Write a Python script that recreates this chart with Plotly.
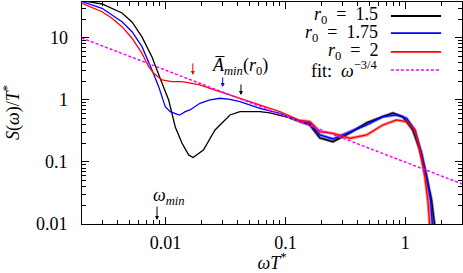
import math
import plotly.graph_objects as go

# ---- data (x = omega T*, y = S(omega)/T*) ----
x_r150 = [0.00202, 0.00296, 0.00434, 0.00526, 0.00637, 0.00772, 0.00935, 0.01063, 0.01207,
          0.01372, 0.0156, 0.0170, 0.0207, 0.0259, 0.0345, 0.0418, 0.0613, 0.0743, 0.109,
          0.132, 0.160, 0.194, 0.249, 0.345, 0.475, 0.649, 0.787, 0.953, 1.155, 1.32, 1.503,
          1.653, 1.762]
s_r150 = [40.0, 35.3, 25.3, 18.1, 10.4, 4.94, 1.88, 1.0, 0.367,
          0.2025, 0.130, 0.118, 0.156, 0.328, 0.573, 0.648, 0.648, 0.617, 0.513,
          0.447, 0.395, 0.244, 0.2125, 0.294, 0.426, 0.538, 0.617, 0.538, 0.328, 0.156, 0.058,
          0.0244, 0.009]

x_r175 = [0.00202, 0.00296, 0.00358, 0.00434, 0.00526, 0.00637, 0.00772, 0.00878, 0.00996,
          0.01096, 0.01288, 0.0132, 0.01462, 0.016, 0.01939, 0.0235, 0.02845, 0.0345, 0.0418,
          0.0506, 0.0613, 0.090, 0.132, 0.160, 0.194, 0.249, 0.345, 0.475, 0.649, 0.845,
          1.023, 1.2, 1.365, 1.503, 1.622, 1.686]
s_r175 = [38.5, 30.1, 23.5, 18.3, 12.6, 7.24, 3.05, 1.64, 0.78,
          0.648, 0.573, 0.573, 0.648, 0.69, 0.885, 1.0, 1.065, 1.026, 0.939,
          0.831, 0.735, 0.61, 0.45, 0.42, 0.2725, 0.235, 0.308, 0.395, 0.538, 0.573,
          0.507, 0.328, 0.1397, 0.058, 0.0244, 0.009]

x_r200 = [0.00202, 0.00296, 0.00358, 0.00434, 0.00526, 0.00637, 0.00724, 0.00798, 0.00935,
          0.01132, 0.01372, 0.01664, 0.01939, 0.0235, 0.02845, 0.0345, 0.0418, 0.0506, 0.0613,
          0.090, 0.132, 0.160, 0.194, 0.249, 0.345, 0.475, 0.649, 0.845, 1.023, 1.2, 1.32,
          1.454, 1.549, 1.6]
s_r200 = [36.3, 26.5, 20.8, 15.2, 9.89, 5.66, 3.44, 2.70, 2.10,
          1.97, 1.97, 1.86, 1.746, 1.545, 1.36, 1.204, 1.065, 0.939, 0.831,
          0.648, 0.47, 0.447, 0.308, 0.29, 0.241, 0.2725, 0.395, 0.476, 0.447, 0.328, 0.156,
          0.058, 0.0218, 0.009]

x_fit = [0.002, 3.0]
s_fit = [10.0, 0.044]

x_ticks = [0.01, 0.1, 1]
x_ticktext = ["0.01", "0.1", "1"]
y_ticks = [0.01, 0.1, 1, 10]
y_ticktext = ["0.01", "0.1", "1", "10"]

series = [
    ("r0 = 1.5", x_r150, s_r150, "#000000"),
    ("r0 = 1.75", x_r175, s_r175, "#0000ff"),
    ("r0 = 2", x_r200, s_r200, "#ff0000"),
]

FONT = "Liberation Serif"
fig = go.Figure()

for name, xs, ys, col in series:
    # fuzzy band for the noisy high-frequency part
    xb = [x for x in xs if x >= 0.1]
    yb = [y for x, y in zip(xs, ys) if x >= 0.1]
    fig.add_trace(go.Scatter(x=xb, y=yb, mode="lines", line=dict(color=col, width=3),
                             opacity=0.45, showlegend=False, hoverinfo="skip"))
    fig.add_trace(go.Scatter(x=xs, y=ys, mode="lines", name=name,
                             line=dict(color=col, width=1.3), showlegend=False))

fig.add_trace(go.Scatter(x=x_fit, y=s_fit, mode="lines", name="fit",
                         line=dict(color="#ff00ff", width=1.5, dash="3px,2px"),
                         showlegend=False))

# ---- axes ----
xminor = [m * 10.0 ** e for e in (-3, -2, -1, 0) for m in range(2, 10)]
yminor = [m * 10.0 ** e for e in (-2, -1, 0, 1) for m in range(2, 10)]

axis_common = dict(type="log", showgrid=False, zeroline=False, showline=True,
                   linecolor="black", linewidth=1.3, mirror="ticks", automargin=False,
                   ticks="inside", ticklen=7, tickwidth=1, tickcolor="black",
                   tickfont=dict(family=FONT, size=18, color="black"))

fig.update_xaxes(**axis_common, range=[-2.696, 0.4725],
                 tickvals=x_ticks, ticktext=x_ticktext,
                 minor=dict(ticks="inside", ticklen=4, tickvals=xminor, tickcolor="black",
                            showgrid=False),
                 ticklabelstandoff=2,
                 title=dict(text="<i>ωT</i><sup>*</sup>", standoff=7,
                            font=dict(family=FONT, size=18, color="black")))
fig.update_yaxes(**axis_common, range=[-2.0, 1.58],
                 tickvals=y_ticks, ticktext=y_ticktext, showticklabels=False,
                 minor=dict(ticks="inside", ticklen=4, tickvals=yminor, tickcolor="black",
                            showgrid=False))

annotations = []
shapes = []

# y tick labels, placed at the y-axis tick values
for tv, tt in zip(y_ticks, y_ticktext):
    annotations.append(dict(xref="paper", yref="y", x=-0.0316, y=math.log10(tv), text=tt,
                            showarrow=False, xanchor="right", yanchor="middle",
                            font=dict(family=FONT, size=18, color="black")))

# ---- hand-made legend (text on the left, sample on the right) ----
leg_rows = [0.937, 0.860, 0.775, 0.694]
SP = "\u2002"
leg_text = [f"<i>r</i><sub>0</sub>{SP}={SP}1.5", f"<i>r</i><sub>0</sub>{SP}={SP}1.75",
            f"<i>r</i><sub>0</sub>{SP}={SP}2", f"fit:{SP}<i>ω</i><sup>−3/4</sup>"]
leg_col = ["#000000", "#0000ff", "#ff0000", "#ff00ff"]
for yy, tt, cc in zip(leg_rows, leg_text, leg_col):
    annotations.append(dict(xref="paper", yref="paper", x=0.784, y=yy, text=tt,
                            showarrow=False, xanchor="right", yanchor="middle",
                            font=dict(family=FONT, size=18, color="black")))
    shapes.append(dict(type="line", xref="paper", yref="paper", x0=0.813, x1=0.945,
                       y0=yy, y1=yy,
                       line=dict(color=cc, width=1.8 if cc != "#ff00ff" else 1.5,
                                 dash="3px,2px" if cc == "#ff00ff" else "solid")))

# y-axis title (placed in the left margin)
annotations.append(dict(xref="paper", yref="paper", x=-0.184, y=0.5, textangle=-90,
                        text="<i>S</i>(<i>ω</i>)/<i>T</i><sup>*</sup>", showarrow=False,
                        xanchor="center", yanchor="middle",
                        font=dict(family=FONT, size=18, color="black")))

# ---- in-plot annotations ----
annotations.append(dict(x=-1.375, y=0.532, xref="x", yref="y",
                        text="<i>A̅</i><sub><i>min</i></sub>(<i>r</i><sub>0</sub>)",
                        showarrow=False, font=dict(family=FONT, size=18, color="black")))
annotations.append(dict(x=-1.97, y=-1.56, xref="x", yref="y",
                        text="<i>ω</i><sub><i>min</i></sub>",
                        showarrow=False, font=dict(family=FONT, size=18, color="black")))
arrows = [(0.0169, 2.53, 13, "#ff0000"), (0.0300, 1.62, 11, "#0000ff"),
          (0.0426, 1.204, 12, "#000000"), (0.0085, 0.0116, 15, "#000000")]
for ax_, ay_, ln, cc in arrows:
    annotations.append(dict(x=math.log10(ax_), y=math.log10(ay_), xref="x", yref="y",
                            text="", showarrow=True, arrowhead=2, arrowsize=0.8,
                            arrowwidth=1, arrowcolor=cc, ax=0, ay=-ln))

fig.update_layout(width=463, height=273, margin=dict(l=82, r=1, t=2, b=49),
                  paper_bgcolor="white", plot_bgcolor="white",
                  annotations=annotations, shapes=shapes, showlegend=False,
                  font=dict(family=FONT, size=18, color="black"))

fig.write_html("out.html", config={"displayModeBar": False},
               post_script="document.body.style.margin='0';document.body.style.padding='0';")
